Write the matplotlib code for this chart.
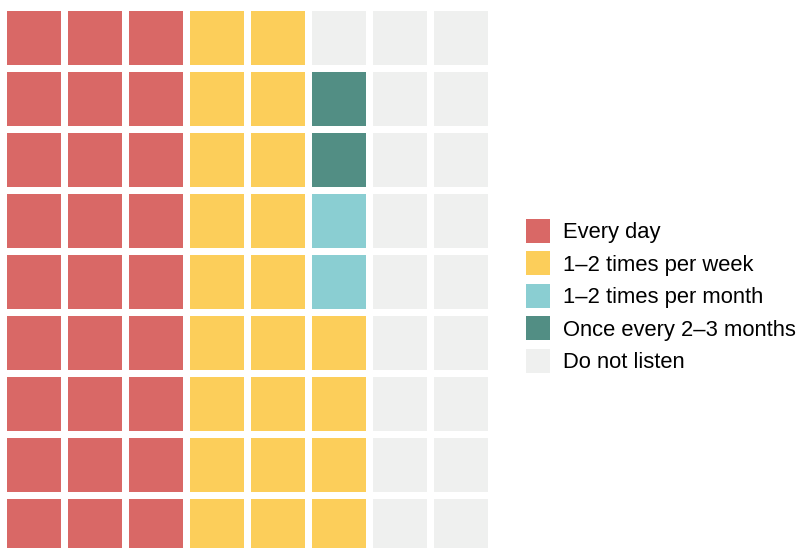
import matplotlib
matplotlib.use("Agg")
import matplotlib.pyplot as plt
from matplotlib.patches import Rectangle, Patch

categories = ["Every day", "1\u20132 times per week", "1\u20132 times per month",
              "Once every 2\u20133 months", "Do not listen"]
counts = [27, 22, 2, 2, 19]
colors = ["#D96866", "#FCCE5A", "#8ACED2", "#528E84", "#EFF0EF"]
n_rows = 9
n_cols = 8

plt.rcParams['font.family'] = ['Liberation Sans', 'DejaVu Sans']

W, H = 799, 548
fig = plt.figure(figsize=(W / 100, H / 100), dpi=100)
pitch = 61.0
left_px = 3.5
top_px = 7.5
ax = fig.add_axes([left_px / W, 1 - (top_px + n_rows * pitch) / H,
                   n_cols * pitch / W, n_rows * pitch / H])
ax.set_xlim(-0.5, n_cols - 0.5)
ax.set_ylim(-0.5, n_rows - 0.5)
ax.axis("off")

size = 54.0 / 61.0
idx = 0
for cat_i, c in enumerate(counts):
    for _ in range(c):
        col = idx // n_rows
        row = idx % n_rows
        ax.add_patch(Rectangle((col - size / 2, row - size / 2), size, size,
                               facecolor=colors[cat_i], edgecolor="none"))
        idx += 1

handles = [Patch(facecolor=col, edgecolor="none") for col in colors]
fs = 15.8
fig.legend(handles, categories, loc="center left",
           bbox_to_anchor=(526 / W, 1 - 296 / H), frameon=False,
           fontsize=fs, handlelength=1.094, handleheight=1.306,
           handletextpad=0.592, labelspacing=0.365, borderpad=0, borderaxespad=0)

fig.savefig("out.png", dpi=100)
